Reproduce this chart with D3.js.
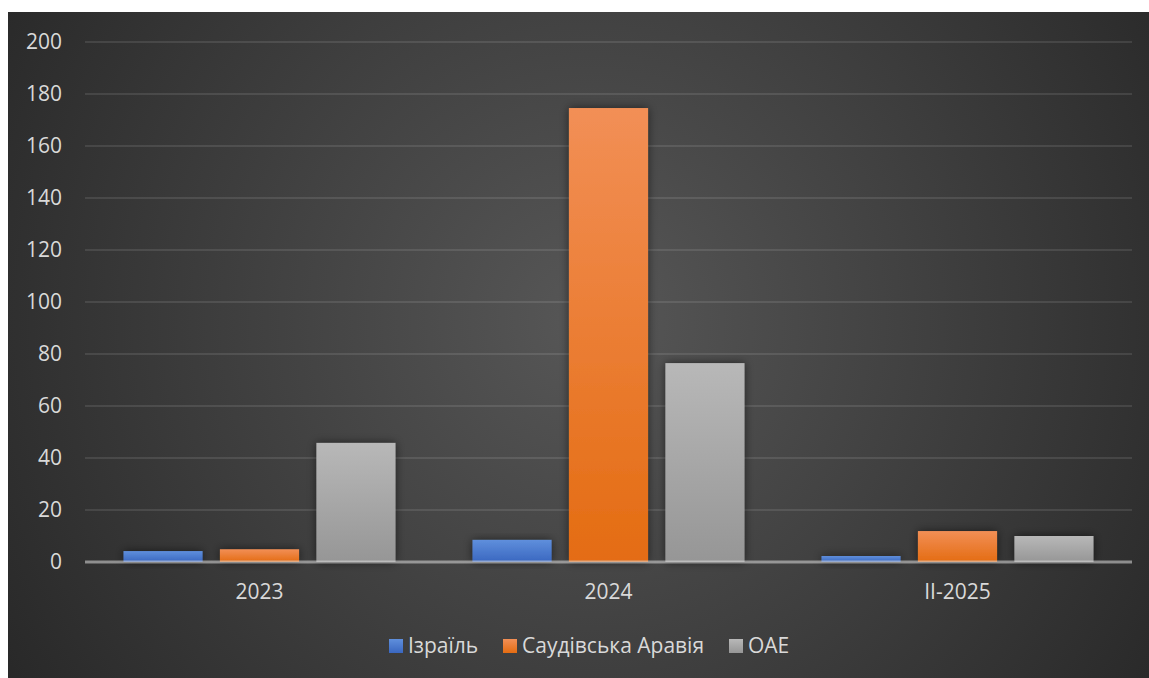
<!DOCTYPE html>
<html>
<head>
<meta charset="utf-8">
<script src="https://cdn.jsdelivr.net/npm/d3@7"></script>
<style>
  html, body { margin: 0; padding: 0; background: #ffffff; }
  svg { display: block; }
  text { font-family: "Open Sans", "Noto Sans", sans-serif; fill: #d9d9d9; }
</style>
</head>
<body>
<svg id="chart" width="1149" height="678"></svg>
<script>
// Periods on the x axis
const categories = ["2023", "2024", "II-2025"];
// Series names shown in the legend
const seriesNames = ["Ізраїль", "Саудівська Аравія", "OAE"];
// Values per series, one per period
const israel = [4.2, 8.5, 2.3];
const saudi = [4.9, 174.6, 11.9];
const uae = [45.8, 76.5, 10];
// Y-axis ticks
const yTicks = [0, 20, 40, 60, 80, 100, 120, 140, 160, 180, 200];

const seriesValues = [israel, saudi, uae];
const gradients = [
  ["#5f8fdc", "#3a67c0"],
  ["#f28f56", "#e46c12"],
  ["#b8b8b8", "#969696"]
];

const svg = d3.select("#chart");
const defs = svg.append("defs");

// Dark radial background
const bg = defs.append("radialGradient")
  .attr("id", "bgGrad")
  .attr("gradientUnits", "userSpaceOnUse")
  .attr("cx", 590).attr("cy", 320).attr("r", 720);
bg.append("stop").attr("offset", "0%").attr("stop-color", "#575757");
bg.append("stop").attr("offset", "100%").attr("stop-color", "#262626");

gradients.forEach((g, i) => {
  const lg = defs.append("linearGradient")
    .attr("id", "barGrad" + i)
    .attr("x1", 0).attr("y1", 0).attr("x2", 0).attr("y2", 1);
  lg.append("stop").attr("offset", "0%").attr("stop-color", g[0]);
  lg.append("stop").attr("offset", "100%").attr("stop-color", g[1]);
});

const shadow = defs.append("filter")
  .attr("id", "barShadow")
  .attr("x", "-30%").attr("y", "-30%").attr("width", "160%").attr("height", "160%");
shadow.append("feDropShadow")
  .attr("dx", 0).attr("dy", 0)
  .attr("stdDeviation", 5)
  .attr("flood-color", "#000").attr("flood-opacity", 0.55);

svg.append("rect")
  .attr("x", 8).attr("y", 12)
  .attr("width", 1141).attr("height", 666)
  .attr("fill", "url(#bgGrad)");

const plot = { left: 85, right: 1132, top: 42, bottom: 562 };

const x = d3.scaleBand()
  .domain(categories)
  .range([plot.left, plot.right])
  .paddingInner(0)
  .paddingOuter(0);

const xInner = d3.scaleBand()
  .domain(d3.range(seriesNames.length))
  .range([38.5, x.bandwidth() - 38.5])
  .paddingInner(0.18);

const y = d3.scaleLinear()
  .domain([0, 200])
  .range([plot.bottom, plot.top]);

// Horizontal gridlines
svg.append("g")
  .selectAll("line")
  .data(yTicks.filter(d => d > 0))
  .join("line")
  .attr("x1", plot.left).attr("x2", plot.right)
  .attr("y1", d => y(d)).attr("y2", d => y(d))
  .attr("stroke", "rgba(255,255,255,0.1)")
  .attr("stroke-width", 2);

// Y tick labels
const yAxis = d3.axisLeft(y).tickValues(yTicks).tickSize(0).tickPadding(0);
const yg = svg.append("g")
  .attr("transform", `translate(${62},0)`)
  .call(yAxis);
yg.select(".domain").remove();
yg.selectAll("text")
  .attr("font-size", 21)
  .attr("fill", "#d9d9d9")
  .attr("font-family", "'Open Sans', 'Noto Sans', sans-serif");

// Bars
const groups = svg.append("g")
  .selectAll("g")
  .data(seriesValues)
  .join("g")
  .attr("filter", "url(#barShadow)");

groups.each(function(vals, si) {
  d3.select(this).selectAll("rect")
    .data(vals)
    .join("rect")
    .attr("x", (d, ci) => x(categories[ci]) + xInner(si))
    .attr("width", xInner.bandwidth())
    .attr("y", d => y(d))
    .attr("height", d => y(0) - y(d))
    .attr("fill", `url(#barGrad${si})`);
});

// Baseline
svg.append("line")
  .attr("x1", plot.left).attr("x2", plot.right)
  .attr("y1", y(0)).attr("y2", y(0))
  .attr("stroke", "rgba(220,220,220,0.55)")
  .attr("stroke-width", 3);

// X category labels
const xAxis = d3.axisBottom(x).tickSize(0).tickPadding(0);
const xg = svg.append("g")
  .attr("transform", `translate(0,${584})`)
  .call(xAxis);
xg.select(".domain").remove();
xg.selectAll("text")
  .attr("font-size", 21)
  .attr("fill", "#d9d9d9")
  .attr("dy", "0.71em")
  .attr("font-family", "'Open Sans', 'Noto Sans', sans-serif");

// Legend
const legendX = [389, 503, 729];
const legend = svg.append("g")
  .selectAll("g")
  .data(seriesNames)
  .join("g")
  .attr("transform", (d, i) => `translate(${legendX[i]},${639})`);
legend.append("rect")
  .attr("width", 14).attr("height", 14)
  .attr("fill", (d, i) => `url(#barGrad${i})`);
legend.append("text")
  .attr("x", 19).attr("y", 7)
  .attr("dy", "0.35em")
  .attr("font-size", 21)
  .text(d => d);
</script>
</body>
</html>
